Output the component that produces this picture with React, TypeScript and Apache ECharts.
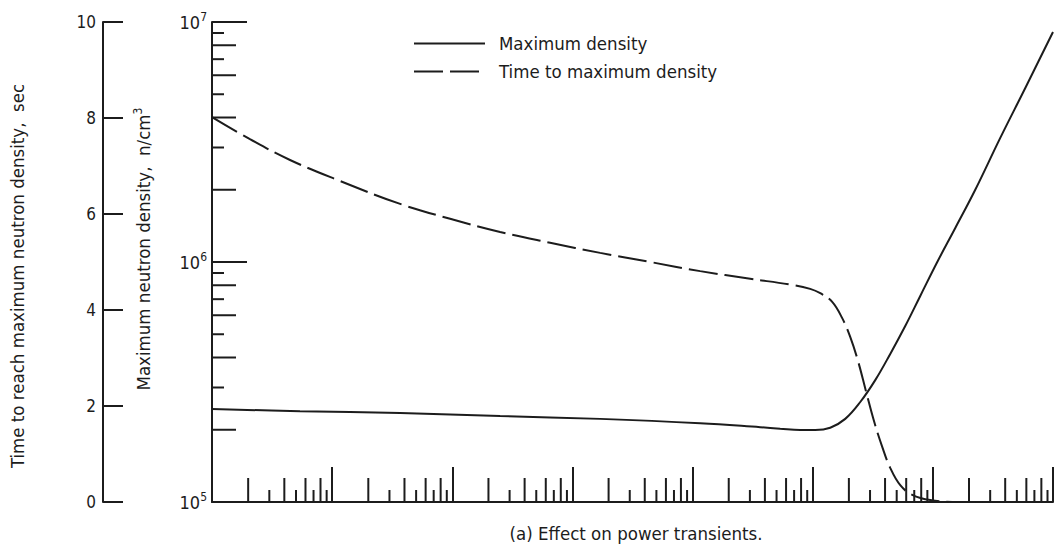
import React, { useEffect, useRef } from "react";
import * as echarts from "echarts";

const FONT = '"DejaVu Sans Condensed", "DejaVu Sans", sans-serif';
const INK = "#1c1c1c";

// Series: Maximum density (n/cm^3) against the unlabeled logarithmic abscissa
const densityX = [1, 5.4, 36.8, 250, 1700, 11570, 36550, 53630, 78700, 104900, 139900, 186500, 248700, 331500, 441900, 589100, 785500, 1.088e6, 1.537e6, 2.254e6, 3.64e6, 5.88e6, 1e7];
const densityY = [2.44e5, 2.39e5, 2.35e5, 2.28e5, 2.22e5, 2.13e5, 2.05e5, 2.02e5, 1.995e5, 1.995e5, 2.04e5, 2.22e5, 2.61e5, 3.22e5, 4.14e5, 5.41e5, 7.22e5, 1.0e6, 1.386e6, 2.0e6, 3.29e6, 5.31e6, 9.09e6];

// Series: Time to maximum density (sec)
const timeX = [1, 2.07, 4.46, 11.6, 36.8, 95.9, 250, 652, 1701, 4436, 11570, 30170, 64970, 95300, 115500, 145300, 176000, 205200, 239300, 278700, 325000, 379000, 441800, 535400, 673600, 950700, 1.69e6, 3.64e6, 8.63e6];
const timeY = [8.02, 7.56, 7.125, 6.69, 6.21, 5.9, 5.625, 5.4, 5.19, 5.0, 4.81, 4.65, 4.53, 4.44, 4.35, 4.17, 3.83, 3.44, 2.92, 2.29, 1.67, 1.15, 0.71, 0.35, 0.15, 0.04, 0.0, 0.0, 0.0];

// Axis ranges and tick definitions
const xRange = [1, 1e7];
const densityRange = [1e5, 1e7];
const timeRange = [0, 10];
const timeInterval = 2;
const xDecades = [1, 10, 100, 1e3, 1e4, 1e5, 1e6];
const yDecades = [1e5, 1e6];
const mantissas = [2, 3, 4, 5, 6, 7, 8, 9];

const legendNames = ["Maximum density", "Time to maximum density"];
const outerTitle = "Time to reach maximum neutron density,  sec";
const innerTitleMain = "Maximum neutron density,  n/cm";
const innerTitleSup = "3";
const caption = "(a) Effect on power transients.";

export default function App() {
  const ref = useRef<HTMLDivElement>(null);

  useEffect(() => {
    if (!ref.current) return;
    const chart = echarts.init(ref.current, null, { renderer: "svg" });

    const tickData: number[][] = [];
    xDecades.forEach((d) => mantissas.forEach((m) => tickData.push([d * m, densityRange[0], 0, m])));
    yDecades.forEach((d) => mantissas.forEach((m) => tickData.push([xRange[0], d * m, 1, m])));

    const option: any = {
      animation: false,
      backgroundColor: "#ffffff",
      textStyle: { fontFamily: FONT, color: INK },
      grid: { left: 212, right: 5, top: 22, bottom: 48, containLabel: false },
      legend: {
        data: legendNames,
        orient: "vertical",
        left: 413,
        top: 34,
        padding: 0,
        itemWidth: 71,
        itemHeight: 14,
        itemGap: 9,
        itemStyle: { opacity: 0 },
        textStyle: { fontFamily: FONT, fontSize: 18.5, lineHeight: 18, color: INK, padding: [0, 0, 0, 9] },
      },
      xAxis: {
        type: "log",
        logBase: 10,
        min: xRange[0],
        max: xRange[1],
        axisLine: { show: true, lineStyle: { color: INK, width: 2 } },
        axisTick: { show: true, inside: true, length: 35, lineStyle: { color: INK, width: 2 } },
        axisLabel: { show: false },
        splitLine: { show: false },
      },
      yAxis: [
        {
          type: "log",
          logBase: 10,
          min: densityRange[0],
          max: densityRange[1],
          position: "left",
          axisLine: { show: true, lineStyle: { color: INK, width: 2 } },
          axisTick: { show: true, inside: true, length: 35, lineStyle: { color: INK, width: 2 } },
          axisLabel: {
            margin: 5,
            formatter: (v: number) => `{b|10}{s|${Math.round(Math.log10(v))}}`,
            rich: {
              b: { fontFamily: FONT, fontSize: 18, color: INK },
              s: { fontFamily: FONT, fontSize: 12, color: INK, padding: [0, 0, 11, 0] },
            },
          },
          splitLine: { show: false },
        },
        {
          type: "value",
          min: timeRange[0],
          max: timeRange[1],
          interval: timeInterval,
          position: "left",
          offset: 109,
          axisLine: { show: true, onZero: false, lineStyle: { color: INK, width: 2 } },
          axisTick: { show: true, inside: true, length: 20, lineStyle: { color: INK, width: 2 } },
          axisLabel: { margin: 7, fontFamily: FONT, fontSize: 17, color: INK },
          splitLine: { show: false },
        },
      ],
      series: [
        {
          name: legendNames[0],
          type: "line",
          yAxisIndex: 0,
          data: densityX.map((x, i) => [x, densityY[i]]),
          symbol: "none",
          smooth: 0.4,
          lineStyle: { color: INK, width: 2 },
          itemStyle: { color: INK },
        },
        {
          name: legendNames[1],
          type: "line",
          yAxisIndex: 1,
          data: timeX.map((x, i) => [x, timeY[i]]),
          symbol: "none",
          smooth: 0.4,
          lineStyle: { color: INK, width: 2, type: [29, 7] },
          itemStyle: { color: INK },
        },
        {
          name: "minor ticks",
          type: "custom",
          silent: true,
          clip: false,
          xAxisIndex: 0,
          yAxisIndex: 0,
          encode: { x: 0, y: 1 },
          data: tickData,
          renderItem: (params: any, api: any) => {
            const p = api.coord([api.value(0), api.value(1)]);
            const isY = api.value(2) === 1;
            const m = api.value(3);
            const len = m % 2 === 0 ? 24 : 12;
            const shape = isY
              ? { x1: p[0], y1: p[1], x2: p[0] + len, y2: p[1] }
              : { x1: p[0], y1: p[1], x2: p[0], y2: p[1] - len };
            return { type: "line", shape, style: { stroke: INK, lineWidth: 2 } };
          },
        },
      ],
      graphic: [
        {
          type: "text",
          x: 17,
          y: 276,
          rotation: Math.PI / 2,
          style: {
            text: outerTitle,
            fontFamily: FONT,
            fontSize: 18.5,
            fill: INK,
            textAlign: "center",
            textVerticalAlign: "middle",
          },
        },
        {
          type: "text",
          x: 143,
          y: 249,
          rotation: Math.PI / 2,
          style: {
            text: `{t|${innerTitleMain}}{s|${innerTitleSup}}`,
            rich: {
              t: { fontFamily: FONT, fontSize: 18.5, fill: INK },
              s: { fontFamily: FONT, fontSize: 12, fill: INK, padding: [0, 0, 11, 0] },
            },
            textAlign: "center",
            textVerticalAlign: "middle",
          },
        },
        {
          type: "text",
          x: 636,
          y: 533,
          style: {
            text: caption,
            fontFamily: FONT,
            fontSize: 18.5,
            fill: INK,
            textAlign: "center",
            textVerticalAlign: "middle",
          },
        },
      ],
    };

    chart.setOption(option);
    return () => chart.dispose();
  }, []);

  return (
    <div
      ref={ref}
      style={{ position: "fixed", left: 0, top: 0, width: 1058, height: 550, background: "#fff" }}
    />
  );
}
